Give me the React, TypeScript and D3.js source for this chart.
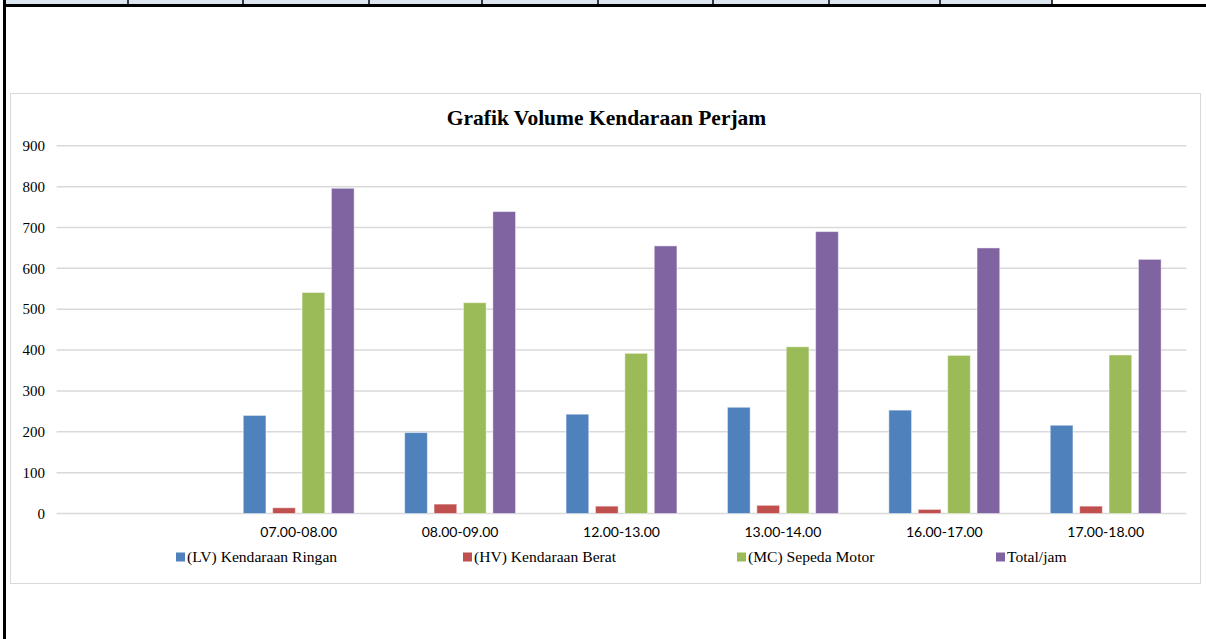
import React from "react";
import * as d3 from "d3";

// chart data
const categories = ["", "07.00-08.00", "08.00-09.00", "12.00-13.00", "13.00-14.00", "16.00-17.00", "17.00-18.00"];
const seriesNames = ["(LV) Kendaraan Ringan", "(HV) Kendaraan Berat", "(MC) Sepeda Motor", "Total/jam"];
const lvValues = [null, 240, 198, 243, 260, 253, 216];
const hvValues = [null, 14, 23, 18, 20, 10, 18];
const mcValues = [null, 541, 516, 392, 408, 387, 388];
const totalValues = [null, 796, 739, 655, 690, 650, 622];
const yTicks = [0, 100, 200, 300, 400, 500, 600, 700, 800, 900];
const colors = ["#4F81BD", "#C0504D", "#9BBB59", "#8064A2"];

// table row edge above the chart (decoration)
const cellDividers = [128, 243, 369, 482, 598, 713, 829, 940, 1052];

const W = 1206;
const H = 639;

export default function App() {
  const allSeries = [lvValues, hvValues, mcValues, totalValues];

  const x0 = d3
    .scaleBand<string>()
    .domain(categories.map((c, i) => String(i)))
    .range([56.6, 1186.4])
    .paddingInner(0.313)
    .paddingOuter(0.1565);

  const x1 = d3
    .scaleBand<string>()
    .domain(seriesNames)
    .range([0, x0.bandwidth()])
    .paddingInner(0.228);

  const y = d3.scaleLinear().domain([0, 900]).range([513.5, 145.8]);

  const legendX = [176, 463, 737, 996];

  return (
    <svg width={W} height={H} style={{ position: "absolute", left: 0, top: 0 }}>
      <rect x={0} y={0} width={W} height={H} fill="#fff" />
      {/* table edge */}
      <rect x={6} y={0} width={1052 - 6} height={4} fill="#dce6f1" />
      {cellDividers.map((d) => (
        <line key={d} x1={d} x2={d} y1={0} y2={5} stroke="#000" strokeWidth={1.5} />
      ))}
      <line x1={3} x2={W} y1={5.5} y2={5.5} stroke="#000" strokeWidth={3} />
      <line x1={4.5} x2={4.5} y1={0} y2={H} stroke="#000" strokeWidth={3} />

      {/* chart area */}
      <rect x={10.5} y={93.5} width={1190} height={490} fill="#fff" stroke="#d9d9d9" strokeWidth={1} />
      <text
        x={606.5}
        y={125}
        textAnchor="middle"
        fontFamily="'Liberation Serif', 'Times New Roman', serif"
        fontWeight="bold"
        fontSize={21.5}
        fill="#000"
      >
        Grafik Volume Kendaraan Perjam
      </text>

      {/* gridlines + y labels */}
      {yTicks.map((t) => (
        <g key={t}>
          <line x1={56.6} x2={1186.4} y1={y(t)} y2={y(t)} stroke="#d9d9d9" strokeWidth={1.5} />
          <text
            x={45}
            y={y(t)}
            dy="0.35em"
            textAnchor="end"
            fontFamily="'Liberation Serif', 'Times New Roman', serif"
            fontSize={15}
            fill="#000"
          >
            {t}
          </text>
        </g>
      ))}

      {/* bars */}
      {categories.map((c, i) => (
        <g key={i} transform={`translate(${x0(String(i))},0)`}>
          {allSeries.map((s, j) =>
            s[i] == null ? null : (
              <rect
                key={j}
                x={x1(seriesNames[j])}
                y={y(s[i] as number)}
                width={x1.bandwidth()}
                height={y(0) - y(s[i] as number)}
                fill={colors[j]}
                stroke="rgba(255,255,255,0.45)"
                strokeWidth={1}
              />
            )
          )}
        </g>
      ))}

      {/* category labels */}
      {categories.map((c, i) => (
        <text
          key={i}
          x={(x0(String(i)) as number) + x0.bandwidth() / 2}
          y={532}
          dy="0.35em"
          textAnchor="middle"
          fontFamily="Lato, 'Open Sans', sans-serif"
          fontSize={14}
          fill="#000"
        >
          {c}
        </text>
      ))}

      {/* legend */}
      {seriesNames.map((n, j) => (
        <g key={n} transform={`translate(${legendX[j]},557)`}>
          <rect x={0} y={-4.5} width={9} height={9} fill={colors[j]} />
          <text
            x={11}
            y={0}
            dy="0.35em"
            fontFamily="'Liberation Serif', 'Times New Roman', serif"
            fontSize={15.6}
            fill="#000"
          >
            {n}
          </text>
        </g>
      ))}
    </svg>
  );
}
